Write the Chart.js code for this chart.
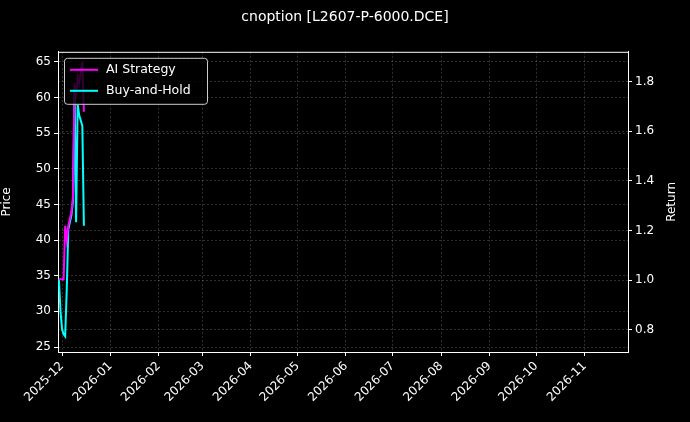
<!DOCTYPE html>
<html><head><meta charset="utf-8">
<script src="https://cdn.jsdelivr.net/npm/chart.js@4"></script>
<style>html,body{margin:0;background:#000;}#w{width:690px;height:422px;}</style>
</head><body><div id="w"><canvas id="c"></canvas></div>
<script>
const monthLabels=["2025-12","2026-01","2026-02","2026-03","2026-04","2026-05","2026-06","2026-07","2026-08","2026-09","2026-10","2026-11"];
const monthOffsets=[0,31,62,90,121,151,182,212,243,274,304,335];
const holdDays=[-2,-1,0,1,2,3,4,6,7,8,9,10,11,13,14];
const holdPrice=[34.5,30,27.5,26.8,26.5,33,41.5,43.5,45.5,61.5,42.5,59,57.5,56,42];
const aiDays=[-2,-1,0,1,2,3,4,6,7,8,9,10,11,13,14];
const aiPrice=[34.5,34.5,34.5,34.5,42,40,42,44,46,62,60,63,62,65,58];
const toPts=(d,v)=>d.map((x,i)=>({x:x,y:v[i]}));
const F="'DejaVu Sans'";
const G='rgba(255,255,255,0.18)';
const legendPlug={id:'lg',afterDraw(ch){const c=ch.ctx,a=ch.chartArea;const x=a.left+6,y=a.top+6;c.save();
c.strokeStyle='#fff';c.lineWidth=1;c.beginPath();c.moveTo(a.left,a.top+.5);c.lineTo(a.right,a.top+.5);c.stroke();
c.fillStyle='rgba(0,0,0,0.8)';c.strokeStyle='#ccc';c.beginPath();c.roundRect(x+.5,y+.5,143,46,3);c.fill();c.stroke();
const it=[['AI Strategy','#ff00ff'],['Buy-and-Hold','#00ffff']];c.font="12.5px "+F;c.textBaseline='middle';
it.forEach((t,i)=>{const yy=y+12+i*21;c.strokeStyle=t[1];c.lineWidth=2;c.beginPath();c.moveTo(x+6,yy);c.lineTo(x+34,yy);c.stroke();c.fillStyle='#fff';c.fillText(t[0],x+42,yy);});
c.translate(672,(a.top+a.bottom)/2);c.rotate(-Math.PI/2);c.textAlign='center';c.font="12px "+F;c.fillText('Return',0,0);
c.restore();}};
new Chart(document.getElementById('c'),{type:'line',
data:{datasets:[
{label:'AI Strategy',data:toPts(aiDays,aiPrice),borderColor:'#ff00ff',borderWidth:2,pointRadius:0,tension:0},
{label:'Buy-and-Hold',data:toPts(holdDays,holdPrice),borderColor:'#00ffff',borderWidth:2,pointRadius:0,tension:0}]},
options:{responsive:true,maintainAspectRatio:false,animation:false,
layout:{padding:0},
plugins:{legend:{display:false},tooltip:{enabled:false},
title:{display:true,text:'cnoption [L2607-P-6000.DCE]',color:'#fff',font:{family:F,size:14,weight:'normal'},padding:{top:9,bottom:26}}},
scales:{
x:{type:'linear',min:-2.6,max:362.8,afterFit(s){s.height=70;},
afterBuildTicks(s){s.ticks=monthOffsets.map(v=>({value:v}));},
ticks:{color:'#fff',font:{family:F,size:12},maxRotation:45,minRotation:45,callback:(v)=>monthLabels[monthOffsets.indexOf(v)]},
grid:{color:G,tickColor:'#fff',tickLength:4},border:{color:'#fff',dash:[2,2]}},
y:{position:'left',min:24.3,max:66.4,afterFit(s){s.width=58;},
afterBuildTicks(s){s.ticks=[25,30,35,40,45,50,55,60,65].map(v=>({value:v}));},
ticks:{color:'#fff',font:{family:F,size:12}},
title:{display:true,text:'Price',color:'#fff',font:{family:F,size:12},padding:{top:0,bottom:4}},
grid:{color:G,tickColor:'#fff',tickLength:4},border:{color:'#fff',dash:[2,2]}},
y2:{position:'right',min:0.71,max:1.921,afterFit(s){s.width=62;},
afterBuildTicks(s){s.ticks=[0.8,1.0,1.2,1.4,1.6,1.8].map(v=>({value:v}));},
ticks:{color:'#fff',font:{family:F,size:12},callback:v=>v.toFixed(1)},
grid:{color:G,tickColor:'#fff',tickLength:4},border:{color:'#fff',dash:[2,2]}}
}},plugins:[legendPlug]});
</script></body></html>
